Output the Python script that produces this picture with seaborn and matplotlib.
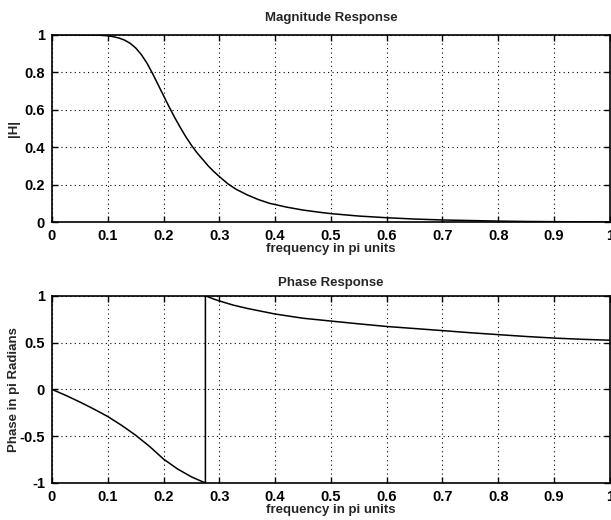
import numpy as np
import pandas as pd
import matplotlib
matplotlib.use("Agg")
import matplotlib.pyplot as plt
import seaborn as sns

# Magnitude response (frequency in pi units, |H|)
mag_freq = [0.0, 0.05, 0.08, 0.10, 0.11, 0.12, 0.13, 0.14, 0.15, 0.16, 0.17, 0.18,
            0.19, 0.20, 0.21, 0.22, 0.23, 0.24, 0.25, 0.26, 0.27, 0.28, 0.29, 0.30,
            0.315, 0.33, 0.35, 0.37, 0.39, 0.42, 0.45, 0.48, 0.50, 0.55, 0.60,
            0.65, 0.70, 0.75, 0.80, 0.85, 0.90, 1.0]
mag_vals = [1.0, 1.0, 0.999, 0.995, 0.99, 0.983, 0.972, 0.955, 0.93, 0.895, 0.85, 0.795,
            0.735, 0.675, 0.615, 0.558, 0.505, 0.455, 0.41, 0.37, 0.335, 0.30, 0.27, 0.243,
            0.205, 0.175, 0.145, 0.12, 0.10, 0.08, 0.064, 0.052, 0.045, 0.032, 0.023,
            0.016, 0.011, 0.008, 0.005, 0.003, 0.002, 0.0]

# Phase response (frequency in pi units, phase in pi radians), includes wrap at ~0.275
ph_freq = [0.0, 0.025, 0.05, 0.075, 0.10, 0.125, 0.15, 0.175, 0.20, 0.225, 0.25, 0.275,
           0.275, 0.29, 0.30, 0.325, 0.35, 0.375, 0.40, 0.45, 0.50, 0.55, 0.60, 0.65,
           0.70, 0.75, 0.80, 0.85, 0.90, 0.95, 1.0]
ph_vals = [0.0, -0.065, -0.135, -0.21, -0.29, -0.385, -0.49, -0.61, -0.745, -0.85, -0.935, -1.0,
           1.0, 0.965, 0.945, 0.90, 0.865, 0.835, 0.805, 0.76, 0.73, 0.70, 0.672, 0.65,
           0.628, 0.605, 0.585, 0.565, 0.548, 0.535, 0.525]

x_ticks = [0, 0.1, 0.2, 0.3, 0.4, 0.5, 0.6, 0.7, 0.8, 0.9, 1]
x_ticklabels = ["0", "0.1", "0.2", "0.3", "0.4", "0.5", "0.6", "0.7", "0.8", "0.9", "1"]
mag_yticks = [0, 0.2, 0.4, 0.6, 0.8, 1]
mag_yticklabels = ["0", "0.2", "0.4", "0.6", "0.8", "1"]
ph_yticks = [-1, -0.5, 0, 0.5, 1]
ph_yticklabels = ["-1", "-0.5", "0", "0.5", "1"]

sns.set_style("white")
plt.rcParams["font.family"] = ["Liberation Sans", "DejaVu Sans"]

fig = plt.figure(figsize=(6.11, 5.20), dpi=100)
ax1 = fig.add_axes([0.0851, 0.573, 0.913, 0.36])
ax2 = fig.add_axes([0.0851, 0.0712, 0.913, 0.36])

df_mag = pd.DataFrame({"f": mag_freq, "m": mag_vals})
df_ph = pd.DataFrame({"f": ph_freq, "p": ph_vals})

sns.lineplot(data=df_mag, x="f", y="m", ax=ax1, color="black", lw=1.1,
             sort=False, estimator=None)
sns.lineplot(data=df_ph, x="f", y="p", ax=ax2, color="black", lw=1.1,
             sort=False, estimator=None)

def style(ax, yt, ytl, ylim, title, ylabel, tpad, lpad):
    ax.set_xlim(0, 1)
    ax.set_ylim(*ylim)
    ax.set_xticks(x_ticks)
    ax.set_xticklabels(x_ticklabels, fontsize=10.5, fontweight="bold")
    ax.set_yticks(yt)
    ax.set_yticklabels(ytl, fontsize=10.5, fontweight="bold")
    ax.set_title(title, fontsize=9.5, fontweight="bold", pad=tpad)
    ax.set_xlabel("frequency in pi units", fontsize=9.5, fontweight="bold", labelpad=0)
    ax.set_ylabel(ylabel, fontsize=9.5, fontweight="bold", labelpad=lpad)
    ax.grid(True, linestyle=(0, (1, 3)), color="black", linewidth=0.8)
    ax.tick_params(direction="in", length=4, width=1, top=True, right=True,
                   bottom=True, left=True, colors="black")
    ax.tick_params(axis="x", pad=5)
    ax.tick_params(axis="y", pad=5)
    for s in ax.spines.values():
        s.set_visible(True)
        s.set_color("black")
        s.set_linewidth(1.2)

style(ax1, mag_yticks, mag_yticklabels, (0, 1), "Magnitude Response", "|H|", 10, 3)
style(ax2, ph_yticks, ph_yticklabels, (-1, 1), "Phase Response", "Phase in pi Radians", 7, 0)

fig.savefig("out.png", dpi=100, facecolor="white")
